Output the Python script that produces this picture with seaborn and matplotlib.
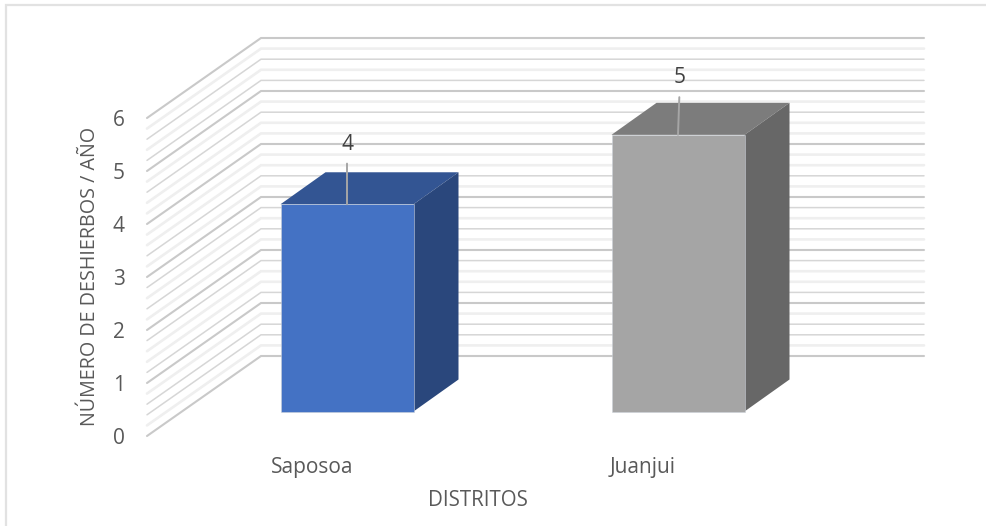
import numpy as np
import pandas as pd
import matplotlib
matplotlib.use("Agg")
import matplotlib.pyplot as plt
from matplotlib.lines import Line2D
from matplotlib.patches import Polygon
import seaborn as sns

categories = ["Saposoa", "Juanjui"]
values = [3.91, 5.22]
front_colors = ["#4472C4", "#A5A5A5"]
top_colors = ["#335593", "#7C7C7C"]
side_colors = ["#2A477C", "#676767"]
y_ticks = [0, 1, 2, 3, 4, 5, 6]
y_label = "NÚMERO DE DESHIERBOS / AÑO"
x_label = "DISTRITOS"
medium_lines = {28, 26, 23, 17, 14, 12, 9, 6, 3, 2}

W, H = 986, 526
sns.set_theme(style="white")
plt.rcParams["font.family"] = ["Open Sans", "DejaVu Sans"]

fig = plt.figure(figsize=(W / 100, H / 100), dpi=100)
L, R, T, B = 147, 924, 118, 436
ax = fig.add_axes([L / W, 1 - B / H, (R - L) / W, (B - T) / H])

px_x = 331.0   # pixels per category
px_y = (B - T) / 6
df = pd.DataFrame({"cat": categories, "val": values})
base = (B - 411.5) / px_y
sns.barplot(data=df, x="cat", y="val", hue="cat", palette=front_colors, hue_order=categories,
            order=categories, width=133 / px_x, gap=0, legend=False, dodge=False,
            bottom=base, ax=ax, zorder=4, linewidth=0.7, edgecolor=(0.8, 0.82, 0.85, 0.55),
            saturation=1)
ax.set_xlim((L - 347) / px_x, (R - 347) / px_x)
ax.set_ylim(0, 6)

# side wall and back wall gridlines
xf, xb = ax.get_xlim()[0], (261 - 347) / px_x
xr = ax.get_xlim()[1]
rise = 80 / px_y
for k in range(31):
    g = k * 0.2
    if k % 5 == 0:
        c, lw, z = "#c9c9c9", 1.5, 2
    elif k in medium_lines:
        c, lw, z = "#d6d6d6", 1.1, 1
    else:
        c, lw, z = "#efefef", 1.9, 1
    ax.plot([xf, xb, xr], [g, g + rise, g + rise], color=c, lw=lw, zorder=z,
            clip_on=False, solid_joinstyle="miter")

# 3D faces derived from seaborn's bars
dx, dy = 45 / px_x, 32 / px_y
for p, tc, sc in zip(ax.patches, top_colors, side_colors):
    x0, y0, w, h = p.get_x(), p.get_y(), p.get_width(), p.get_height()
    x1, y1 = x0 + w, y0 + h
    ax.add_patch(Polygon([(x0, y1), (x1, y1), (x1 + dx, y1 + dy), (x0 + dx, y1 + dy)], closed=True,
                         fc=tc, ec="none", zorder=3, clip_on=False))
    ax.add_patch(Polygon([(x1, y0), (x1 + dx, y0 + dy), (x1 + dx, y1 + dy), (x1, y1)], closed=True,
                         fc=sc, ec="none", zorder=3, clip_on=False))
    p.set_clip_on(False)

# data labels with leader lines
offsets = [(0, 60), (2, 57)]
for i, (v, off) in enumerate(zip(values, offsets)):
    ax.annotate(f"{v:.0f}", xy=(i, base + v), xytext=(off[0] * 0.72, off[1] * 0.72),
                textcoords="offset points", ha="center", va="center", fontsize=15, color="#404040",
                zorder=6, annotation_clip=False,
                arrowprops=dict(arrowstyle="-", color="#a6a6a6", lw=1.4, shrinkA=4, shrinkB=0))

ax.set_xticks([0 - 35 / px_x, 1 - 35 / px_x], categories)
ax.set_yticks(y_ticks, [str(t) for t in y_ticks])
ax.tick_params(axis="both", length=0, labelsize=15, labelcolor="#595959")
ax.tick_params(axis="y", pad=16)
ax.tick_params(axis="x", pad=15)
ax.set_xlabel(x_label, fontsize=14.8, color="#595959")
ax.set_ylabel(y_label, fontsize=14.2, color="#595959")
ax.xaxis.set_label_coords((478 - L) / (R - L), (B - 500) / (B - T), transform=ax.transAxes)
ax.yaxis.set_label_coords((90 - L) / (R - L), (B - 276) / (B - T), transform=ax.transAxes)
ax.xaxis.label.set_verticalalignment("center")
ax.yaxis.label.set_verticalalignment("center")
sns.despine(ax=ax, left=True, bottom=True)

# chart frame: only the top and left edges are visible in the reference
fig.add_artist(Line2D([6 / W, 6 / W, 1], [0, 1 - 5 / H, 1 - 5 / H], transform=fig.transFigure,
                      color="#e2e2e2", lw=1.6, solid_joinstyle="miter"))
fig.savefig("out.png", dpi=100, facecolor="white")
